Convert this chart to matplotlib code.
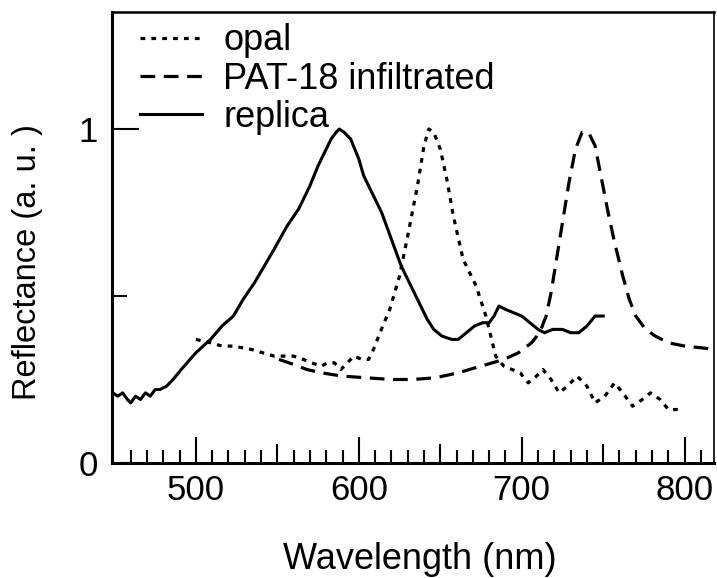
import numpy as np
import matplotlib.pyplot as plt
from matplotlib.ticker import FixedLocator

plt.rcParams['font.family'] = ['Liberation Sans', 'DejaVu Sans']

# replica (solid)
replica_x = [449, 452, 455, 458, 460, 463, 466, 469, 472, 475, 478, 482, 486, 491,
             500, 509, 516, 523, 529, 536, 548, 556, 563, 570, 575, 580, 583, 586,
             588, 591, 595, 600, 603, 608, 614, 620, 626, 632, 637, 642, 646, 651,
             657, 661, 666, 671, 676, 680, 683, 686, 690, 695, 700, 705, 710, 714,
             719, 725, 730, 735, 740, 745, 750]
replica_y = [0.21, 0.20, 0.21, 0.19, 0.18, 0.20, 0.19, 0.21, 0.20, 0.22, 0.22, 0.23, 0.25, 0.28,
             0.33, 0.37, 0.41, 0.44, 0.49, 0.54, 0.64, 0.71, 0.76, 0.83, 0.89, 0.94, 0.97, 0.99,
             1.00, 0.99, 0.97, 0.91, 0.86, 0.81, 0.75, 0.67, 0.59, 0.53, 0.48, 0.43, 0.40, 0.38,
             0.37, 0.37, 0.39, 0.41, 0.42, 0.42, 0.44, 0.47, 0.46, 0.45, 0.44, 0.42, 0.40, 0.39,
             0.40, 0.40, 0.39, 0.39, 0.41, 0.44, 0.44]

# opal (dotted)
opal_x = [500, 509, 516, 523, 534, 548, 556, 560, 566, 571, 577, 581, 585, 589, 593, 597,
          602, 606, 609, 613, 619, 625, 630, 636, 640, 643, 646, 650, 654, 658, 664,
          668, 672, 678, 681, 684, 689, 694, 699, 704, 709, 713, 718, 723, 728, 734, 740,
          745, 751, 757, 762, 768, 774, 779, 785, 790, 797]
opal_y = [0.37, 0.36, 0.35, 0.35, 0.34, 0.32, 0.32, 0.32, 0.31, 0.30, 0.29, 0.30, 0.30, 0.28, 0.30, 0.32,
          0.31, 0.31, 0.34, 0.39, 0.46, 0.56, 0.68, 0.83, 0.95, 1.00, 0.99, 0.94, 0.85, 0.74, 0.61,
          0.57, 0.53, 0.44, 0.38, 0.32, 0.29, 0.28, 0.27, 0.24, 0.26, 0.28, 0.25, 0.21, 0.23, 0.26, 0.23,
          0.18, 0.20, 0.24, 0.21, 0.17, 0.19, 0.21, 0.19, 0.16, 0.16]

# PAT-18 infiltrated (dashed)
pat_x = [551, 560, 568, 577, 590, 605, 620, 633, 647, 661, 675, 689, 698, 706, 711, 715,
         718, 721, 725, 729, 733, 737, 741, 745, 749, 753, 757, 762, 766, 770, 776, 782,
         790, 800, 810, 818]
pat_y = [0.31, 0.295, 0.28, 0.27, 0.26, 0.255, 0.25, 0.25, 0.255, 0.27, 0.29, 0.31, 0.33, 0.36, 0.39, 0.44,
         0.51, 0.60, 0.72, 0.84, 0.94, 0.99, 0.99, 0.95, 0.85, 0.75, 0.66, 0.56, 0.49, 0.44, 0.40, 0.38,
         0.36, 0.35, 0.345, 0.34]

fig = plt.figure(figsize=(7.17, 5.78), dpi=100)
ax = fig.add_axes([0.1562, 0.199, 0.8396, 0.780])

ax.plot(opal_x, opal_y, color='black', lw=2.3, linestyle=(0, (1.5, 1.9)), label='opal')
ax.plot(pat_x, pat_y, color='black', lw=2.3, linestyle=(0, (4.6, 2.7)), label='PAT-18 infiltrated')
ax.plot(replica_x, replica_y, color='black', lw=2.2, label='replica')

ax.set_xlim(448.5, 818)
ax.set_ylim(0, 1.35)

# x ticks: long at hundreds, medium at fifties, short at tens
ax.xaxis.set_major_locator(FixedLocator([500, 600, 700, 800]))
ax.xaxis.set_minor_locator(FixedLocator([x for x in range(450, 820, 10) if x % 50 != 0]))
ax.tick_params(axis='x', which='major', direction='in', length=18.5, width=1.5, labelsize=25, pad=8)
ax.tick_params(axis='x', which='minor', direction='in', length=9.5, width=1.5)
sec = ax.secondary_xaxis('bottom')
sec.set_xticks([550, 650, 750])
sec.tick_params(direction='in', length=14, width=1.5, labelbottom=False)
sec.spines['bottom'].set_visible(False)

ax.yaxis.set_major_locator(FixedLocator([0, 1]))
ax.yaxis.set_minor_locator(FixedLocator([0.5]))
ax.tick_params(axis='y', which='major', direction='in', length=19.5, width=1.5, labelsize=25, pad=10)
ax.tick_params(axis='y', which='minor', direction='in', length=10.8, width=1.5)

ax.spines['left'].set_linewidth(2.2)
ax.spines['bottom'].set_linewidth(2.2)
ax.spines['top'].set_linewidth(1.8)
ax.spines['right'].set_linewidth(1.2)

ax.set_xlabel('Wavelength (nm)', fontsize=26, labelpad=25)
ax.xaxis.label.set_x(0.511)
ax.set_ylabel('Reflectance (a. u. )', fontsize=23.5)
ax.yaxis.set_label_coords(-0.115, 0.446)

ax.legend(loc='upper left', bbox_to_anchor=(0.047, 0.975), frameon=False, fontsize=26,
          handlelength=1.72, handletextpad=0.58, labelspacing=0.09, borderpad=0, borderaxespad=0)

plt.savefig('out.png', dpi=100)
